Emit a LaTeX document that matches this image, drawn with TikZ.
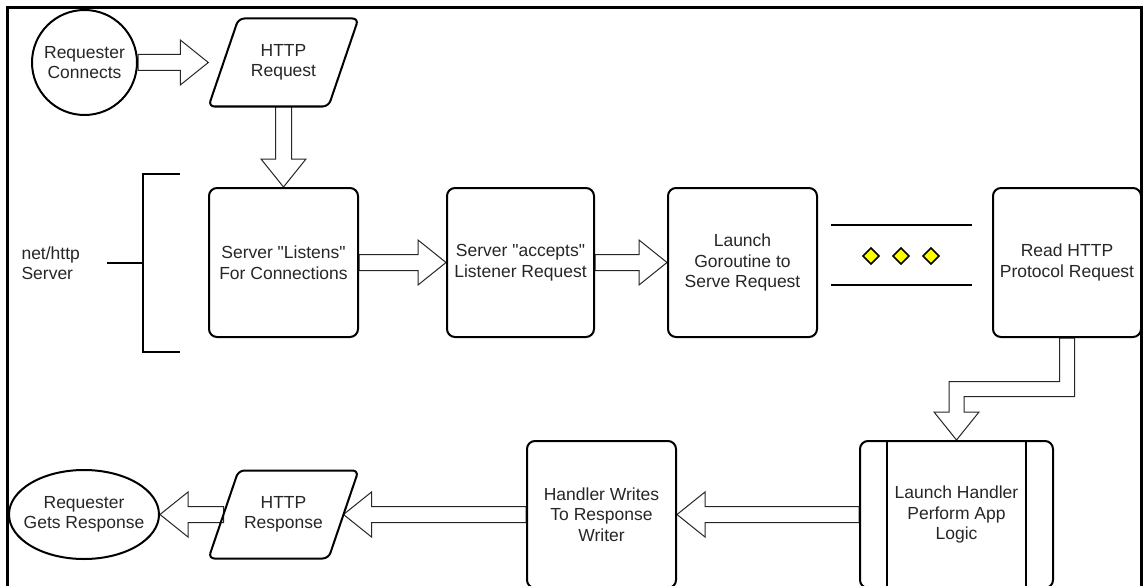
\documentclass[tikz,border=0pt]{standalone}
\usepackage{fontspec}
\setmainfont{Liberation Sans}[Ligatures=TeXOff]
\usetikzlibrary{calc,shapes.geometric,backgrounds}
\definecolor{dotyellow}{RGB}{255,255,0}
\tikzset{
  txt/.style={font=\fontsize{17.5}{20.5}\selectfont, align=center, text=black!85},
  bx/.style={draw=black, line width=2pt, rounded corners=8pt},
  box/.style={bx, txt, minimum width=149pt, minimum height=149pt, inner sep=0pt},
  barrow/.style={draw=black!85, line width=1pt, fill=white, line join=miter},
  heavy/.style={draw=black, line width=2pt},
  dotdiam/.style={draw=black, line width=1.5pt, fill=dotyellow, line join=miter}
}
\newcommand{\rarr}[2]{\draw[barrow] ($(#1)+(0,-8)$) -- ($(#2)+(-28,-8)$) -- ($(#2)+(-28,-22.5)$) -- (#2) -- ($(#2)+(-28,22.5)$) -- ($(#2)+(-28,8)$) -- ($(#1)+(0,8)$) -- cycle;}
\newcommand{\larr}[2]{\draw[barrow] ($(#1)+(0,-8)$) -- ($(#2)+(28,-8)$) -- ($(#2)+(28,-22.5)$) -- (#2) -- ($(#2)+(28,22.5)$) -- ($(#2)+(28,8)$) -- ($(#1)+(0,8)$) -- cycle;}
\newcommand{\darr}[2]{\draw[barrow] ($(#1)+(-8,0)$) -- ($(#2)+(-8,-28)$) -- ($(#2)+(-22.5,-28)$) -- (#2) -- ($(#2)+(22.5,-28)$) -- ($(#2)+(8,-28)$) -- ($(#1)+(8,0)$) -- cycle;}
\newcommand{\para}[1]{\draw[bx, rounded corners=6pt] ($(#1)+(15,-44)$) -- ($(#1)+(75,-44)$) -- ($(#1)+(45,44)$) -- ($(#1)+(-75,44)$) -- ($(#1)+(-45,-44)$) -- cycle;}
\begin{document}
\begin{tikzpicture}[x=1pt,y=-1pt]
\useasboundingbox (0,0) rectangle (1144,586);
\clip (0,0) rectangle (1144,586);
% frame
\draw[line width=2.5pt] (7.5,600) -- (7.5,7.5) -- (1141.5,7.5) -- (1141.5,600);
% top row
\node[circle, draw=black, line width=2pt, minimum size=105pt, inner sep=0pt, txt] (conn) at (84.5,62.5) {Requester\\Connects};
\node[txt, minimum width=150pt, minimum height=88pt, inner sep=0pt] (req) at (283.5,62.5) {HTTP\\Request};
\para{req}
% server row
\node[box] (listen) at (283.5,262.5) {Server "Listens"\\For Connections};
\node[box, minimum width=147pt] (accept) at (520.5,262.5) {Server "accepts"\\Listener Request};
\node[box] (gor) at (742.5,262.5) {Launch\\Goroutine to\\Serve Request};
\node[box, minimum width=148pt] (read) at (1067,262.5) {Read HTTP\\Protocol Request};
% bracket and label
\draw[heavy] (180,174) -- (143,174) -- (143,352) -- (180,352);
\draw[heavy] (107,262.5) -- (143,262.5);
\node[txt, align=left, anchor=west] (nethttp) at (18,263) {net/http\\Server};
% ellipsis
\draw[heavy] (831,225) -- (972,225);
\draw[heavy] (831,285) -- (972,285);
\foreach \cx in {871,901,931}{
  \draw[dotdiam] ({\cx-8},256) -- (\cx,248) -- ({\cx+8},256) -- (\cx,264) -- cycle;
}
% bottom row
\node[box, minimum width=193pt, minimum height=147pt] (launch) at (956.5,514.5) {Launch Handler\\Perform App\\Logic};
\draw[heavy] ($(launch.north west)+(28,0)$) -- ($(launch.south west)+(28,0)$);
\draw[heavy] ($(launch.north east)+(-28,0)$) -- ($(launch.south east)+(-28,0)$);
\node[box, minimum height=147pt] (hand) at (601.5,514.5) {Handler Writes\\To Response\\Writer};
\node[txt, minimum width=150pt, minimum height=88pt, inner sep=0pt] (resp) at (283.5,514.5) {HTTP\\Response};
\para{resp}
\coordinate (respL) at ($(resp)+(-60,0)$);
\coordinate (respR) at ($(resp)+(60,0)$);
\node[ellipse, draw=black, line width=2pt, minimum width=150pt, minimum height=89pt, inner sep=0pt] (gets) at (84,514.5) {};
\node[txt] (getsT) at (gets.center) {Requester\\Gets Response};
% arrows
\begin{scope}[on background layer]
\rarr{conn.east}{req.west}
\darr{req.south}{listen.north}
\rarr{listen.east}{accept.west}
\rarr{accept.east}{gor.west}
\coordinate (mid) at ($(read.south)!0.5!(launch.north)$);
\coordinate (kneeA) at (read.south |- mid);
\coordinate (kneeB) at (launch.north |- mid);
\draw[barrow] ($(read.south)+(-7.5,0)$) -- ($(kneeA)+(-7.5,-7.5)$) -- ($(kneeB)+(-7.5,-7.5)$) -- ($(launch.north)+(-7.5,-28)$) -- ($(launch.north)+(-22.5,-28)$) -- (launch.north) -- ($(launch.north)+(22.5,-28)$) -- ($(launch.north)+(7.5,-28)$) -- ($(kneeB)+(7.5,7.5)$) -- ($(kneeA)+(7.5,7.5)$) -- ($(read.south)+(7.5,0)$) -- cycle;
\larr{launch.west}{hand.east}
\larr{hand.west}{respR}
\larr{respL}{gets.east}
\end{scope}
\end{tikzpicture}
\end{document}
